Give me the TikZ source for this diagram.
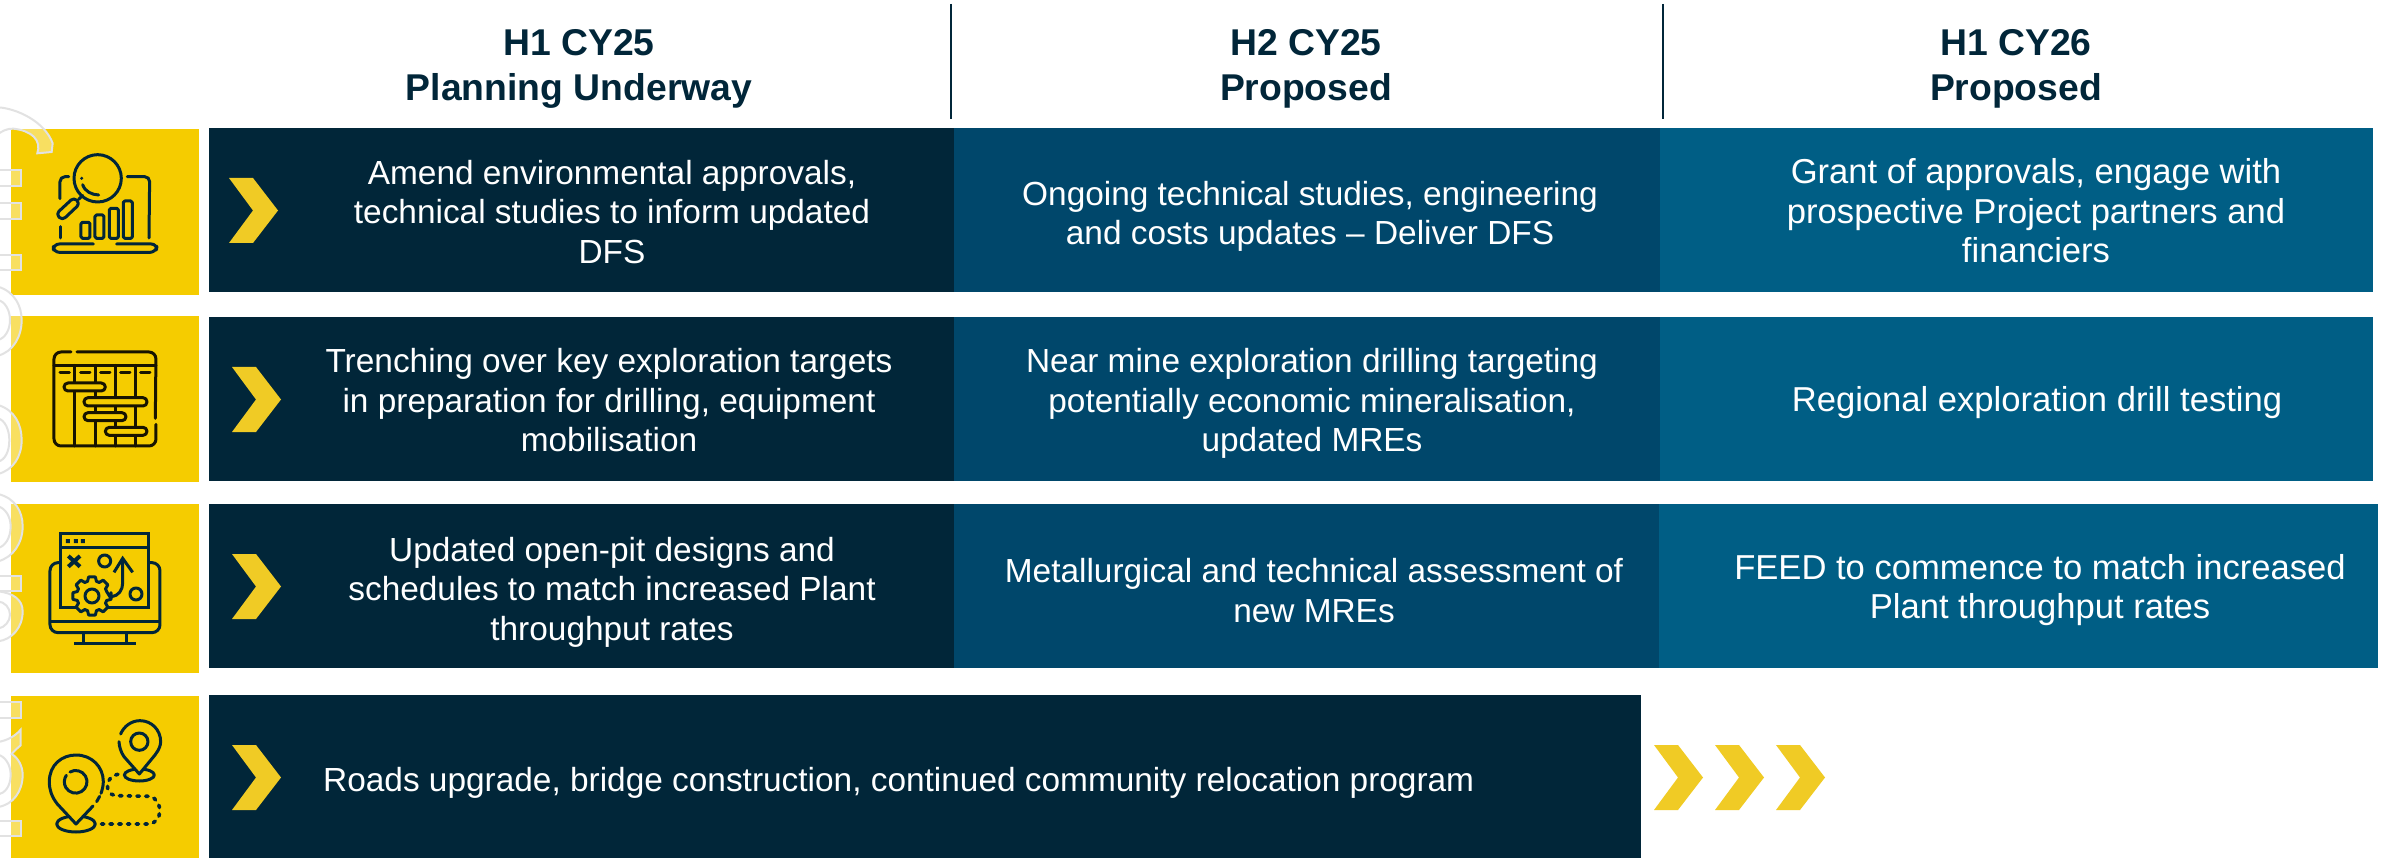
\documentclass[tikz,border=0pt]{standalone}
\usepackage{fontspec}
\setmainfont{Liberation Sans}
\definecolor{navy}{HTML}{012639}
\definecolor{midblue}{HTML}{00476B}
\definecolor{rightblue}{HTML}{005E85}
\definecolor{iconyellow}{HTML}{F5CC00}
\definecolor{chevyellow}{HTML}{F0CB25}
\definecolor{ghost}{HTML}{E2E2E2}
\tikzset{
  head/.style={text=navy,font=\fontsize{37.3}{45}\selectfont\bfseries,align=center,inner sep=0pt},
  body/.style={text=white,font=\fontsize{33.4}{39.5}\selectfont,align=center,inner sep=0pt},
  bodyright/.style={text=white,font=\fontsize{34.6}{39.5}\selectfont,align=center,inner sep=0pt},
  rule/.style={draw=navy,line width=2pt},
  chev/.style={fill=chevyellow,draw=none},
  zoomed/.style={x=0.33333pt,y=-0.33333pt},
  ic/.style={draw=navy,line width=3pt,line cap=round,line join=round},
  icb/.style={draw=black!90!iconyellow,line width=3pt,line cap=round,line join=round},
  ghostshape/.style={draw=ghost,line width=2pt,fill=white,fill opacity=0.38},
}
\newcommand{\chevron}[2]{%
  \fill[chev] (#1,#2) -- ++(24,0) -- ++(25,32.5) -- ++(-25,32.5) -- ++(-24,0) -- ++(24,-32.5) -- cycle;}
\begin{document}
\begin{tikzpicture}[x=1pt,y=-1pt]
\useasboundingbox (0,0) rectangle (2382,858);
\fill[white] (0,0) rectangle (2382,858);

% bands
\fill[navy] (209,128) rectangle (955,292);
\fill[midblue] (954,128) rectangle (1661,292);
\fill[rightblue] (1660,128) rectangle (2373,292);
\fill[navy] (209,317) rectangle (955,481);
\fill[midblue] (954,317) rectangle (1661,481);
\fill[rightblue] (1660,317) rectangle (2373,481);
\fill[navy] (209,504) rectangle (955,668);
\fill[midblue] (954,504) rectangle (1660,668);
\fill[rightblue] (1659,504) rectangle (2378,668);
\fill[navy] (209,695) rectangle (1641,858);

% yellow icon squares
\fill[iconyellow] (11,129) rectangle (199,295);
\fill[iconyellow] (11,316) rectangle (199,482);
\fill[iconyellow] (11,504) rectangle (199,673);
\fill[iconyellow] (11,696) rectangle (199,858);

% faint watermark at the left edge
\begin{scope}[shift={(0,90)},zoomed]
  \path[ghostshape] (-6,52) .. controls (50,55) and (135,95) .. (158,160) -- (155,186) -- (112,190) .. controls (125,150) and (95,122) .. (40,116) .. controls (20,115) and (5,125) .. (-6,132) -- cycle;
  \path[ghostshape] (-6,240) rectangle (62,288);
  \path[ghostshape] (-6,340) rectangle (62,387);
  \path[ghostshape] (-6,495) rectangle (62,541);
  \path[ghostshape] (-6,590) .. controls (45,605) and (65,650) .. (65,690) .. controls (65,740) and (40,785) .. (-6,797) -- (-6,750) .. controls (15,745) and (30,720) .. (30,690) .. controls (30,660) and (15,635) .. (-6,630) -- cycle;
  \path[ghostshape] (-6,945) .. controls (45,960) and (65,1005) .. (65,1050) .. controls (65,1100) and (40,1140) .. (-6,1152) -- (-6,1115) .. controls (15,1110) and (28,1085) .. (28,1050) .. controls (28,1020) and (15,990) .. (-6,985) -- cycle;
\end{scope}
\begin{scope}[shift={(0,458)},zoomed]
  \path[ghostshape] (-6,108) .. controls (45,120) and (68,160) .. (68,205) .. controls (68,255) and (40,298) .. (-6,310) -- (-6,270) .. controls (15,265) and (32,240) .. (32,205) .. controls (32,175) and (15,150) .. (-6,145) -- cycle;
  \path[ghostshape] (-6,400) .. controls (40,405) and (68,425) .. (68,460) .. controls (68,510) and (35,545) .. (-6,550) -- (-6,512) .. controls (15,508) and (30,490) .. (30,470) .. controls (30,450) and (15,432) .. (-6,430) -- cycle;
  \path[ghostshape] (-6,355) rectangle (62,400);
  \path[ghostshape] (-6,733) rectangle (62,780);
  \path[ghostshape] (-6,852) .. controls (20,848) and (45,835) .. (62,815) -- (62,862) .. controls (50,872) and (42,880) .. (35,888) .. controls (55,900) and (68,925) .. (68,950) .. controls (68,1000) and (40,1040) .. (-6,1047) -- (-6,1010) .. controls (15,1005) and (32,985) .. (32,950) .. controls (32,920) and (15,895) .. (-6,890) -- cycle;
  \path[ghostshape] (-6,1088) rectangle (62,1133);
\end{scope}

% icon 1: laptop with magnifier
\begin{scope}[shift={(0,110)},zoomed]
  \draw[ic,rounded corners=5pt] (206,200) -- (180,200) -- (180,266);
  \draw[ic] (182,350) -- (182,384);
  \draw[ic,rounded corners=5pt] (382,200) -- (449,200) -- (447,384);
  \draw[ic,rounded corners=6pt] (280,402) -- (160,402) -- (160,427) -- (468,427) -- (472,402) -- (350,402);
  \draw[ic] (293,205) circle[radius=71];
  \draw[ic] (248,224) .. controls (255,245) and (275,254) .. (296,255);
  \fill[navy] (245,205) circle[radius=5];
  \draw[ic] (248,256) -- (236,268);
  \draw[ic,rounded corners=4pt] (222,262) -- (240,281) -- (187,331) -- (168,312) -- cycle;
  \draw[ic,rounded corners=1.5pt] (243,337) rectangle (270,385);
  \draw[ic,rounded corners=1.5pt] (285,315) rectangle (312,385);
  \draw[ic,rounded corners=1.5pt] (328,295) rectangle (355,385);
  \draw[ic,rounded corners=1.5pt] (370,273) rectangle (397,385);
\end{scope}

% icon 2: gantt chart
\begin{scope}[shift={(0,300)},zoomed]
  \draw[icb,rounded corners=7pt] (213,156) -- (162,156) -- (162,438) -- (468,438) -- (468,373);
  \draw[icb,rounded corners=7pt] (466,355) -- (468,156) -- (231,156);
  \draw[icb] (162,196) -- (468,196);
  \foreach \xx in {225,286,346,406} \draw[icb] (\xx,196) -- (\xx,438);
  \foreach \xx in {180,242,302,362,422} \draw[icb] (\xx,218) -- (\xx+28,218);
  \draw[icb,fill=iconyellow,rounded corners=4pt] (192,249) rectangle (316,273);
  \draw[icb,fill=iconyellow,rounded corners=4pt] (252,293) rectangle (441,318);
  \draw[icb,fill=iconyellow,rounded corners=4pt] (252,338) rectangle (378,362);
  \draw[icb,fill=iconyellow,rounded corners=4pt] (316,382) rectangle (441,406);
\end{scope}

% icon 3: monitor, plan and gear
\begin{scope}[shift={(0,490)},zoomed]
  \draw[ic,line cap=butt,rounded corners=8pt] (181,218) -- (150,218) -- (150,428) -- (480,428) -- (480,218) -- (447,218);
  \draw[ic,line cap=butt] (150,395) -- (480,395);
  \draw[ic,line cap=butt] (250,428) -- (250,460) (380,428) -- (380,460) (222,460) -- (408,460);
  \draw[ic,line cap=butt,line join=miter] (181,130) rectangle (447,352);
  \draw[ic,line cap=butt] (181,172) -- (447,172);
  \fill[navy] (198,147) rectangle (210,159) (222,147) rectangle (234,159) (243,147) rectangle (255,159);
  \draw[ic,line width=4pt,line cap=butt] (205,198) -- (240,230) (240,198) -- (205,230);
  \draw[ic] (314,213) circle[radius=18];
  \draw[ic] (408,312) circle[radius=18];
  \draw[ic,line cap=butt] (335,320) .. controls (355,318) and (368,300) .. (368,280) -- (368,205);
  \draw[ic,line cap=butt,line join=miter] (342,247) -- (368,205) -- (398,247);
  \begin{scope}[shift={(276,318)}]
    \draw[ic,line cap=butt,fill=iconyellow] (8:58) \foreach \aa in {0,45,...,315} { -- (\aa-10:58) -- (\aa+10:58) -- (\aa+17:46) -- (\aa+28:46) } -- cycle;
    \draw[ic] (0,0) circle[radius=21];
  \end{scope}
\end{scope}

% icon 4: two map pins with dotted route
\begin{scope}[shift={(0,680)},zoomed]
  \draw[ic,line width=3.6pt,line cap=round,dash pattern=on 2.5pt off 6.2pt] (304,432) -- (445,432) .. controls (490,430) and (490,360) .. (450,349) -- (345,347) .. controls (315,340) and (310,290) .. (358,282);
  \draw[ic] (228,432) ellipse[x radius=58,y radius=24];
  \fill[iconyellow] (228,432) -- (172,372) -- (148,305) -- (228,225) -- (310,305) -- (290,363) -- cycle;
  \draw[ic] (279,378) -- (228,432) -- (172,372) .. controls (155,350) and (148,330) .. (148,305) .. controls (148,255) and (185,225) .. (228,225) .. controls (275,225) and (310,260) .. (310,305) .. controls (310,318) and (306,332) .. (303,340);
  \draw[ic] (290,365) -- (299,349);
  \draw[ic] (210,276) arc[start angle=-120,end angle=215,radius=34];
  \draw[ic] (418,285) ellipse[x radius=45,y radius=18];
  \fill[iconyellow] (418,282) -- (372,230) -- (360,185) -- (420,122) -- (482,185) -- (465,225) -- cycle;
  \draw[ic] (372,230) -- (418,282) -- (465,225) .. controls (478,208) and (482,195) .. (482,185) .. controls (482,150) and (455,122) .. (420,122) .. controls (395,122) and (372,138) .. (362,162);
  \draw[ic] (372,230) .. controls (362,215) and (358,200) .. (357,185);
  \draw[ic] (418,185) circle[radius=26];
\end{scope}

% chevrons
\chevron{229}{178}
\chevron{232}{367}
\chevron{232}{554}
\chevron{232}{745}
\chevron{1654}{745}
\chevron{1715}{745}
\chevron{1776}{745}

% header rules
\draw[rule] (951,4) -- (951,119);
\draw[rule] (1663,4) -- (1663,119);

% header text
\node[head] (h1) at (579,68.5) {H1 CY25\\Planning Underway};
\node[head] (h2) at (1306,68.5) {H2 CY25\\Proposed};
\node[head] (h3) at (2016,68.5) {H1 CY26\\Proposed};

% body text
\node[body] (a1) at (612,212) {Amend environmental approvals,\\technical studies to inform updated\\DFS};
\node[body] (a2) at (1310,216.5) {Ongoing technical studies, engineering\\and costs updates – Deliver DFS};
\node[bodyright] (a3) at (2036,211) {Grant of approvals, engage with\\prospective Project partners and\\financiers};
\node[body] (b1) at (609,400.5) {Trenching over key exploration targets\\in preparation for drilling, equipment\\mobilisation};
\node[body] (b2) at (1312,403.5) {Near mine exploration drilling targeting\\potentially economic mineralisation,\\updated MREs};
\node[bodyright] (b3) at (2037,402.5) {Regional exploration drill testing};
\node[body] (c1) at (612,592) {Updated open-pit designs and\\schedules to match increased Plant\\throughput rates};
\node[body] (c2) at (1314,590.5) {Metallurgical and technical assessment of\\new MREs};
\node[bodyright] (c3) at (2040,590) {FEED to commence to match increased\\Plant throughput rates};
\node[body,anchor=west] (d1) at (323,782.5) {Roads upgrade, bridge construction, continued community relocation program};
\end{tikzpicture}
\end{document}
